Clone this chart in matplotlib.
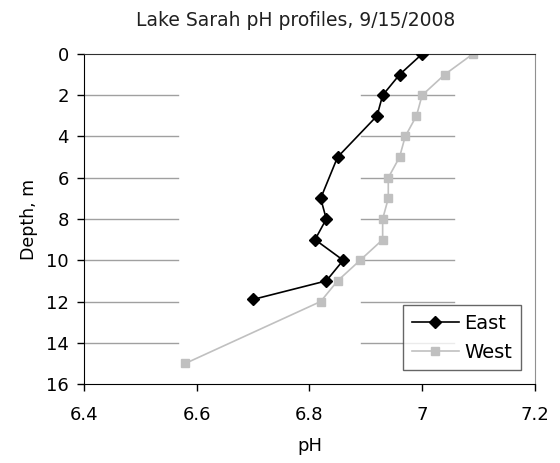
import matplotlib
matplotlib.use('Agg')
import matplotlib.pyplot as plt
from matplotlib.ticker import FuncFormatter

east_depth = [0, 1, 2, 3, 5, 7, 8, 9, 10, 11, 11.9]
east_ph = [7.00, 6.96, 6.93, 6.92, 6.85, 6.82, 6.83, 6.81, 6.86, 6.83, 6.70]
west_depth = [0, 1, 2, 3, 4, 5, 6, 7, 8, 9, 10, 11, 12, 15]
west_ph = [7.09, 7.04, 7.00, 6.99, 6.97, 6.96, 6.94, 6.94, 6.93, 6.93, 6.89, 6.85, 6.82, 6.58]
grid_depths = [2, 4, 6, 8, 10, 12, 14]

plt.rcParams['font.family'] = 'DejaVu Sans'
fig = plt.figure(figsize=(5.6, 4.63), dpi=100)
ax = fig.add_axes([0.15, 0.1706, 0.805, 0.7128])

# gridlines only show in two pieces in the original
for d in grid_depths:
    ax.axhline(d, xmin=0.0, xmax=0.208, color='#a0a0a0', lw=1, zorder=1)
    ax.axhline(d, xmin=0.614, xmax=0.82, color='#a0a0a0', lw=1, zorder=1)

ax.plot(east_ph, east_depth, color='black', lw=1.2, marker='D', ms=6,
        label='East', zorder=3)
ax.plot(west_ph, west_depth, color='#c0c0c0', lw=1.2, marker='s', ms=6,
        label='West', zorder=2)

ax.set_xlim(6.4, 7.2)
ax.set_ylim(16, 0)
ax.set_xticks([6.4, 6.6, 6.8, 7.0, 7.2])
ax.set_yticks(range(0, 17, 2))
ax.xaxis.set_major_formatter(FuncFormatter(lambda v, p: f'{v:g}'))
ax.tick_params(labelsize=13, direction='out', length=5, width=1)
ax.tick_params(axis='y', pad=6)
ax.tick_params(axis='x', pad=11)

ax.spines['left'].set_color('black')
ax.spines['bottom'].set_color('black')
ax.spines['top'].set_color('#303030')
ax.spines['right'].set_color('#909090')

ax.set_xlabel('pH', fontsize=13, labelpad=9)
ax.set_ylabel('Depth, m', fontsize=12.5, labelpad=6)
fig.text(296 / 560, 1 - 20 / 463, 'Lake Sarah pH profiles, 9/15/2008',
         fontsize=13.5, ha='center', va='center', color='#202020')

leg = ax.legend(loc='lower right', fontsize=14, frameon=True, fancybox=False,
                edgecolor='#404040', borderpad=0.45, handlelength=2.4,
                handletextpad=0.3, labelspacing=0.5, borderaxespad=0.7)
leg.get_frame().set_linewidth(1)

fig.savefig('out.png', dpi=100)
